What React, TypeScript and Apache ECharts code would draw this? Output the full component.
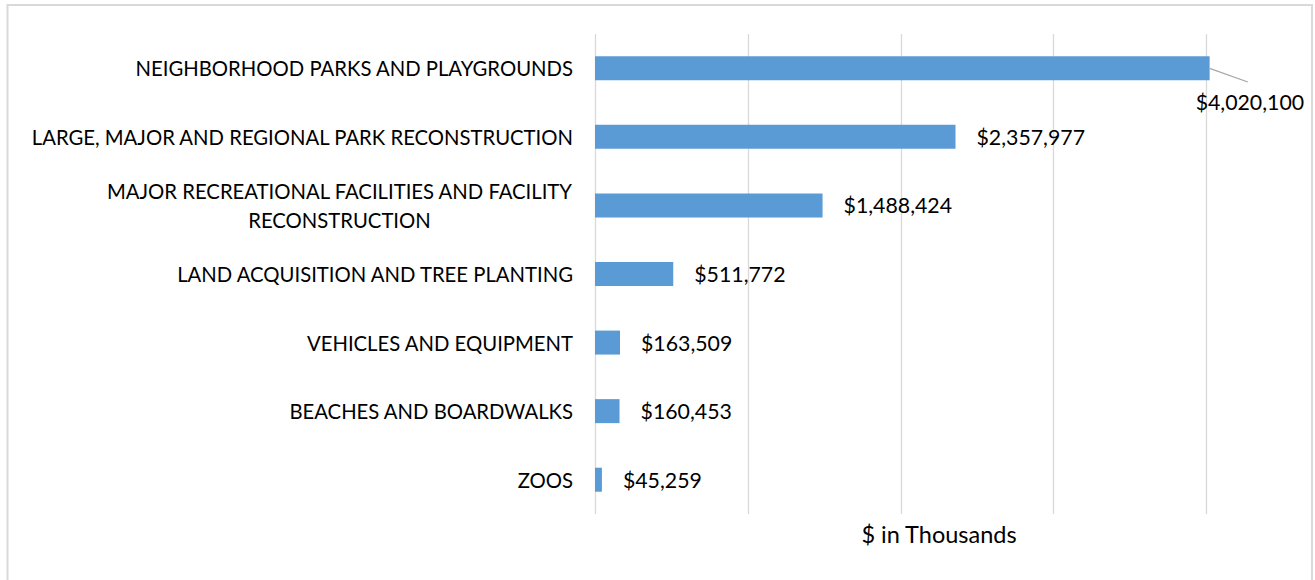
import React, { useEffect, useRef } from "react";
import * as echarts from "echarts";

const categories = [
  "NEIGHBORHOOD PARKS AND PLAYGROUNDS",
  "LARGE, MAJOR AND REGIONAL PARK RECONSTRUCTION",
  "MAJOR RECREATIONAL FACILITIES AND FACILITY\nRECONSTRUCTION",
  "LAND ACQUISITION AND TREE PLANTING",
  "VEHICLES AND EQUIPMENT",
  "BEACHES AND BOARDWALKS",
  "ZOOS",
];
const values = [4020100, 2357977, 1488424, 511772, 163509, 160453, 45259];
const axisName = "$ in Thousands";
// leader line of the first label: from bar end to [value, fractional row]
const leaderEnd = [4270000, 0.2];

const FONT = "Lato";
const LABEL_SIZE = 20.3;
const VALUE_SIZE = 21.3;

function measure(text: string, size: number, family: string): number {
  const c = document.createElement("canvas");
  const ctx = c.getContext("2d");
  if (!ctx) return text.length * size * 0.6;
  ctx.font = `${size}px ${family}`;
  return ctx.measureText(text).width;
}

export default function App() {
  const ref = useRef<HTMLDivElement>(null);
  useEffect(() => {
    if (!ref.current) return;
    const chart = echarts.init(ref.current, undefined, { renderer: "svg" });
    const fmt = (v: number) => "$" + v.toLocaleString("en-US");
    const multiWidth = Math.ceil(
      Math.max(
        ...categories
          .filter((c) => c.includes("\n"))
          .flatMap((c) => c.split("\n"))
          .map((l) => measure(l, LABEL_SIZE, FONT)),
        0
      )
    );
    chart.setOption({
      animation: false,
      backgroundColor: "#ffffff",
      grid: { left: 595, right: 32, top: 34, bottom: 66, containLabel: false },
      xAxis: {
        type: "value",
        min: 0,
        max: 4500000,
        interval: 1000000,
        axisLabel: { show: false },
        axisLine: { show: false },
        axisTick: { show: false },
        splitLine: { show: true, showMaxLine: false, lineStyle: { color: "#d9d9d9", width: 1.3 } },
        name: axisName,
        nameLocation: "middle",
        nameGap: 8,
        nameTextStyle: { fontFamily: FONT, fontSize: 23.5, color: "#000000" },
      },
      yAxis: [
        {
          type: "category",
          data: categories,
          inverse: true,
          axisLine: { show: false },
          axisTick: { show: false },
          axisLabel: {
            margin: 22,
            fontFamily: FONT,
            fontSize: LABEL_SIZE,
            color: "#000000",
            lineHeight: 29,
            formatter: (v: string) =>
              v.includes("\n") ? v.split("\n").map((l) => `{c|${l}}`).join("\n") : v,
            rich: {
              c: {
                width: multiWidth,
                align: "center",
                fontFamily: FONT,
                fontSize: LABEL_SIZE,
                color: "#000000",
                lineHeight: 29,
              },
            },
          },
        },
        {
          type: "value",
          show: false,
          min: -0.5,
          max: categories.length - 0.5,
          inverse: true,
          splitLine: { show: false },
        },
      ],
      series: [
        {
          type: "bar",
          clip: false,
          barWidth: 24,
          itemStyle: { color: "#5b9bd5" },
          label: {
            show: true,
            position: "right",
            distance: 21,
            fontFamily: FONT,
            fontSize: VALUE_SIZE,
            color: "#000000",
            formatter: (p: any) => fmt(p.value),
          },
          labelLine: { show: false },
          labelLayout: (p: any) => (p.dataIndex === 0 ? { dx: -35, dy: 34 } : {}),
          data: values,
        },
        {
          type: "line",
          yAxisIndex: 1,
          silent: true,
          clip: false,
          symbol: "none",
          lineStyle: { color: "#a6a6a6", width: 1.3 },
          data: [[values[0], 0], leaderEnd],
          z: 3,
        },
      ],
      graphic: [
        {
          type: "rect",
          shape: { x: 7.5, y: 5, width: 1304.5, height: 600 },
          style: { fill: "none", stroke: "#d9d9d9", lineWidth: 2 },
          silent: true,
        },
      ],
    });
    return () => chart.dispose();
  }, []);
  return (
    <div
      ref={ref}
      style={{ position: "fixed", left: 0, top: 0, width: 1315, height: 580 }}
    />
  );
}
